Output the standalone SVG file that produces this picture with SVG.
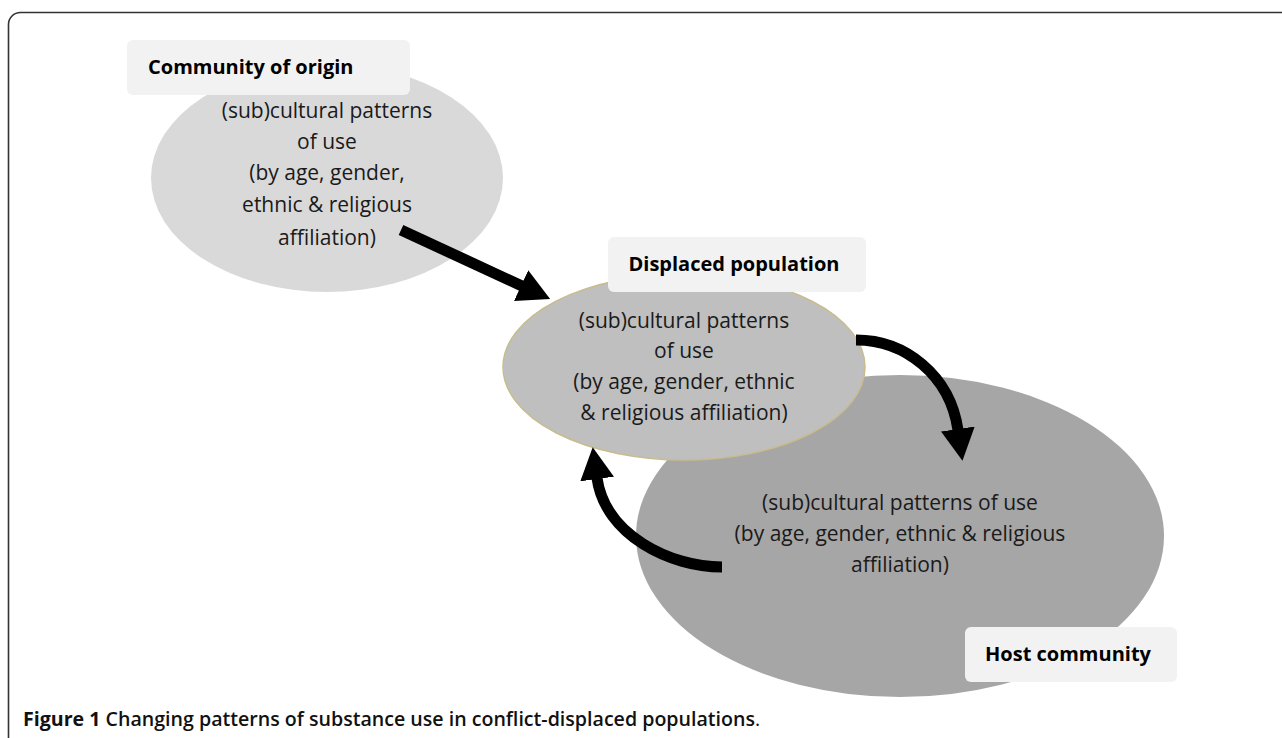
<svg xmlns="http://www.w3.org/2000/svg" width="1282" height="738" viewBox="0 0 1282 738">
<style>
.lbl{fill:#f2f2f2;stroke:none}
.lt{font-family:"Open Sans","Noto Sans",sans-serif;font-weight:700;font-size:20px;fill:#000}
.bt{font-family:"Open Sans","Noto Sans",sans-serif;font-size:21px;fill:#1a1a1a;text-anchor:middle}
.arr{fill:none;stroke:#000;stroke-width:11}
.cap{font-family:"Open Sans","Noto Sans",sans-serif;font-size:19.6px;fill:#111}
</style>
<defs>
<marker id="ah" viewBox="0 0 32 34" refX="1" refY="17" markerWidth="32" markerHeight="34" orient="auto" markerUnits="userSpaceOnUse">
<path d="M0,0 L32,17 L0,34 z" fill="#000"/>
</marker>
</defs>
<rect x="0" y="0" width="1282" height="738" fill="#fff"/>
<rect x="8.5" y="12.5" width="1310" height="800" rx="12" ry="12" fill="none" stroke="#333" stroke-width="1.6"/>

<g id="host-community">
<ellipse cx="900" cy="536" rx="264" ry="161" fill="#a6a6a6"/>
<text class="bt" x="900"><tspan x="900" y="510">(sub)cultural patterns of use</tspan><tspan x="900" y="541">(by age, gender, ethnic &amp; religious</tspan><tspan x="900" y="572">affiliation)</tspan></text>
<rect class="lbl" x="965" y="627" width="212" height="55" rx="6"/>
<text class="lt" x="1068" y="661" text-anchor="middle">Host community</text>
</g>

<g id="community-of-origin">
<ellipse cx="327" cy="178" rx="176" ry="114" fill="#d9d9d9"/>
<rect class="lbl" x="127" y="40" width="283" height="55" rx="6"/>
<text class="lt" x="148" y="74">Community of origin</text>
<text class="bt" x="327"><tspan x="327" y="118">(sub)cultural patterns</tspan><tspan x="327" y="149">of use</tspan><tspan x="327" y="180">(by age, gender,</tspan><tspan x="327" y="212">ethnic &amp; religious</tspan><tspan x="327" y="245">affiliation)</tspan></text>
</g>

<g id="displaced-population">
<ellipse cx="684" cy="367" rx="181" ry="93" fill="#bfbfbf" stroke="#c8bc8e" stroke-width="1.5"/>
<rect class="lbl" x="608" y="237" width="258" height="55" rx="6"/>
<text class="lt" x="734" y="271" text-anchor="middle">Displaced population</text>
<text class="bt" x="684"><tspan x="684" y="328">(sub)cultural patterns</tspan><tspan x="684" y="358">of use</tspan><tspan x="684" y="389">(by age, gender, ethnic</tspan><tspan x="684" y="420">&amp; religious affiliation)</tspan></text>
</g>

<g id="connectors">
<path class="arr" d="M401,230 L522,286" marker-end="url(#ah)"/>
<path class="arr" d="M856,340 C905,340 950,375 958,430" marker-end="url(#ah)"/>
<path class="arr" d="M722,567 C670,567 605,535 597,478" marker-end="url(#ah)"/>
</g>

<text class="cap" x="23" y="726"><tspan font-weight="700">Figure 1</tspan><tspan font-weight="600"> Changing patterns of substance use in conflict-displaced populations</tspan><tspan font-weight="400">.</tspan></text>
</svg>
